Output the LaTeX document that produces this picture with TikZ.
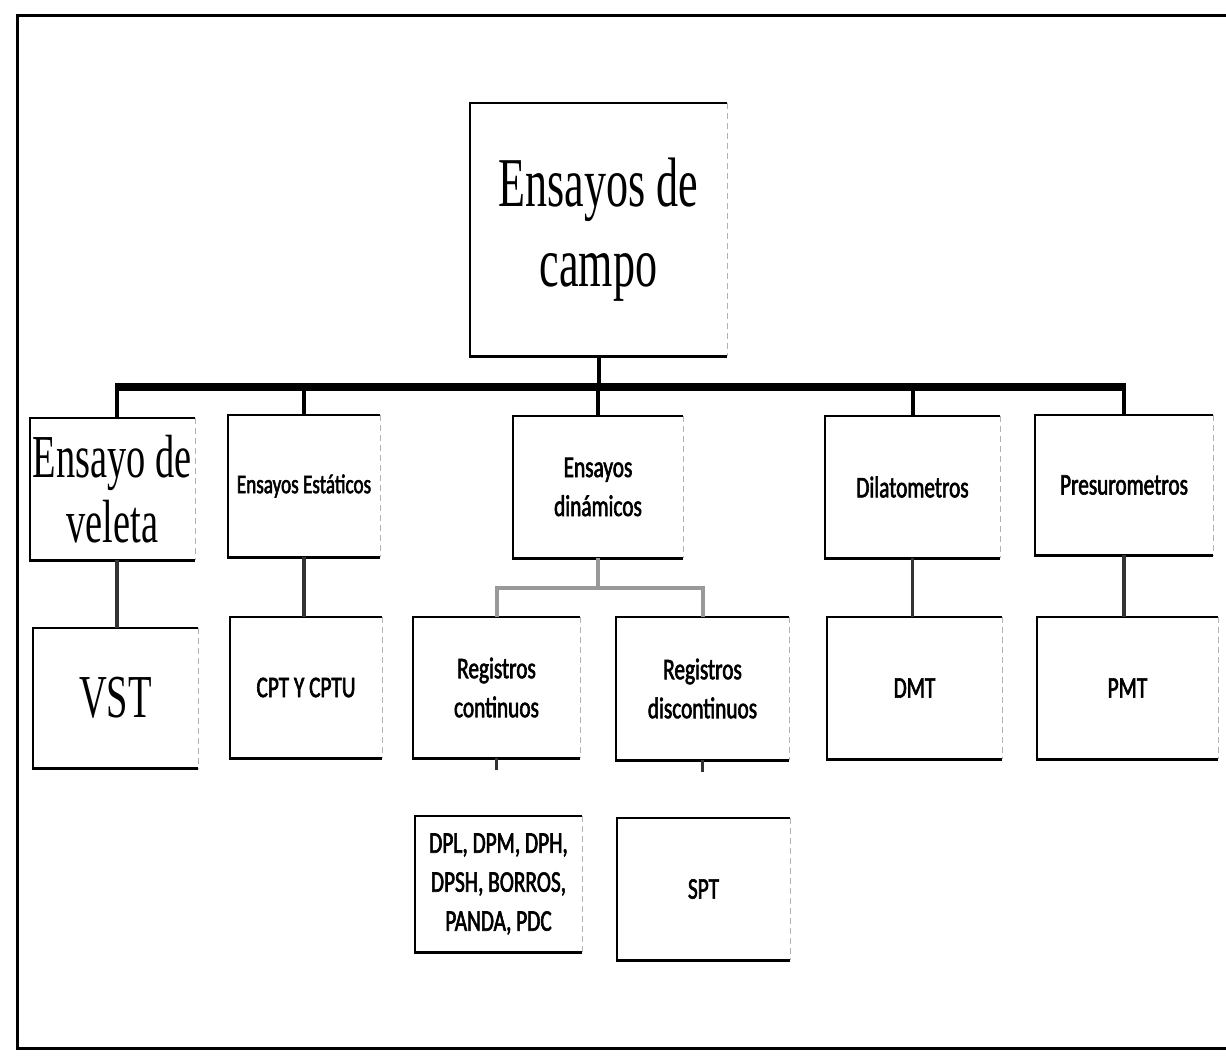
\documentclass[tikz,border=0pt]{standalone}
\usepackage{fontspec}
\newfontfamily\cser[FakeStretch=0.63]{Liberation Serif}
\newfontfamily\csans[FakeStretch=0.71,FakeBold=2]{Carlito}
\newcommand\mybox[1]{%
  \draw[boxln] (#1.north east) -- (#1.north west) -- (#1.south west) -- (#1.south east);
  \draw[rightln] (#1.north east) -- (#1.south east);}
\begin{document}
\begin{tikzpicture}[x=1pt,y=-1pt,
  bx/.style={rectangle, inner sep=0pt, align=center},
  boxln/.style={line width=2.6pt, black},
  rightln/.style={line width=1.2pt, black!30, dash pattern=on 6pt off 4pt},
  busln/.style={line width=8pt, black},
  drop/.style={line width=4pt, black},
  conn/.style={line width=3.5pt, black!80},
  conng/.style={line width=4pt, black!40},
  frame/.style={line width=3pt, black},
  bigser/.style={font=\cser\fontsize{70pt}{80pt}\selectfont},
  midser/.style={font=\cser\fontsize{61pt}{65pt}\selectfont},
  sans/.style={font=\csans\fontsize{30pt}{39pt}\selectfont},
  smsans/.style={font=\csans\fontsize{27pt}{35pt}\selectfont}]
\useasboundingbox (0,0) rectangle (1226,1055);
\fill[white] (0,0) rectangle (1226,1055);
% outer frame
\draw[frame] (1226,15) -- (17,15) -- (17,1048) -- (1226,1048);
% nodes
\node[bx, bigser, minimum width=257pt, minimum height=253pt] (root) at (598.5,229.5) {Ensayos de\\campo};
\node[bx, midser, minimum width=165pt, minimum height=142pt] (vel) at (112.5,489) {Ensayo de\\veleta};
\node[bx, smsans, minimum width=152pt, minimum height=142pt] (est) at (304,486) {Ensayos Estáticos};
\node[bx, sans, minimum width=170pt, minimum height=142pt] (din) at (598,487) {Ensayos\\dinámicos};
\node[bx, sans, minimum width=175pt, minimum height=142pt] (dil) at (912.5,487) {Dilatometros};
\node[bx, sans, minimum width=178pt, minimum height=140pt] (pre) at (1124,485) {Presurometros};
\node[bx, midser, minimum width=165pt, minimum height=140pt] (vst) at (115.5,698) {VST};
\node[bx, sans, minimum width=152pt, minimum height=141pt] (cpt) at (306,687.5) {CPT Y CPTU};
\node[bx, sans, minimum width=167pt, minimum height=141pt] (rc) at (496.5,687.5) {Registros\\continuos};
\node[bx, sans, minimum width=173pt, minimum height=143pt] (rd) at (702.5,688.5) {Registros\\discontinuos};
\node[bx, sans, minimum width=175pt, minimum height=142pt] (dmt) at (914.5,688) {DMT};
\node[bx, sans, minimum width=181pt, minimum height=142pt] (pmt) at (1127.5,688) {PMT};
\node[bx, sans, minimum width=167pt, minimum height=136pt] (dpl) at (498.5,884) {DPL, DPM, DPH,\\DPSH, BORROS,\\PANDA, PDC};
\node[bx, sans, minimum width=173pt, minimum height=142pt] (spt) at (703.5,889) {SPT};
% box outlines
\foreach \n in {root,vel,est,din,dil,pre,vst,cpt,rc,rd,dmt,pmt,dpl,spt} {\mybox{\n}}
% bus
\coordinate (bus) at (598,387);
\draw[drop] (root.south) -- (root.south |- bus);
\draw[drop] ([xshift=4.5pt]vel.north) -- ([xshift=4.5pt]vel.north |- bus);
\foreach \n in {est,din,dil,pre} {\draw[drop] (\n.north) -- (\n.north |- bus);}
\draw[busln] ([xshift=2.5pt]vel.north |- bus) -- ([xshift=2pt]pre.north |- bus);
% second level connectors
\draw[conn] ([xshift=4.5pt]vel.south) -- ([xshift=4.5pt]vel.south |- vst.north);
\draw[conn] (est.south) -- (est.south |- cpt.north);
\draw[conn] (dil.south) -- (dil.south |- dmt.north);
\draw[conn] (pre.south) -- (pre.south |- pmt.north);
\coordinate (split) at (598,588);
\draw[conng] (din.south) -- (split);
\draw[conng] (rc.north) |- (split) -| (rd.north);
% stubs below registros
\draw[conn] (rc.south) -- ++(0,12);
\draw[conn] (rd.south) -- ++(0,12);
\end{tikzpicture}
\end{document}
